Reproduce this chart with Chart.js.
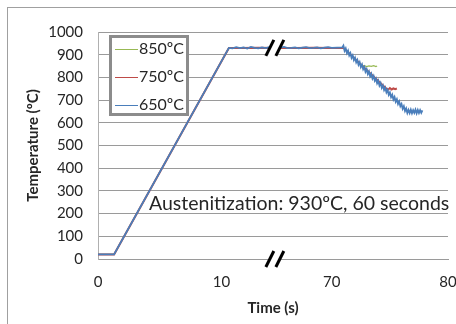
<!DOCTYPE html>
<html>
<head>
<meta charset="utf-8">
<script src="https://cdn.jsdelivr.net/npm/chart.js@4/dist/chart.umd.min.js"></script>
<style>
  html, body { margin: 0; padding: 0; background: #fff; }
  #wrap { width: 456px; height: 324px; position: relative; }
</style>
</head>
<body>
<div id="wrap"><canvas id="coolingChart"></canvas></div>
<script>
/* global Chart:false */

// tick labels of the broken time axis
var xTickLabels = [0, 10, 70, 80];
var yTicksMax = 1000;

// 650 C run (blue)
var time650 = [0, 1.3, 14, 16, 18, 20, 22, 24, 26, 28, 30, 32, 34, 36, 38, 40, 42, 44, 46, 48, 50, 52, 54, 56, 58, 60, 62, 64, 66, 68, 70, 70.9,
  71.0, 71.1, 71.2, 71.3, 71.4, 71.5, 71.6, 71.7, 71.8, 71.9, 72.0, 72.1, 72.2, 72.3, 72.4, 72.5, 72.6, 72.7, 72.8, 72.9,
  73.0, 73.1, 73.2, 73.3, 73.4, 73.5, 73.6, 73.7, 73.8, 73.9, 74.0, 74.1, 74.2, 74.3, 74.4, 74.5, 74.6, 74.7, 74.8, 74.9,
  75.0, 75.1, 75.2, 75.3, 75.4, 75.5, 75.6, 75.7, 75.8, 75.9, 76.0, 76.1, 76.2, 76.3, 76.4, 76.5,
  76.6, 76.7, 76.8, 76.9, 77.0, 77.1, 77.2, 77.3, 77.4, 77.5, 77.6, 77.7, 77.8];
var temp650 = [20, 20, 930, 928, 933, 929, 932, 927, 934, 930, 928, 932, 929, 933, 930, 927, 931, 934, 929, 930, 932, 928, 931, 933, 929, 930, 932, 928, 931, 933, 930, 932,
  940, 917, 928, 907, 918, 897, 907, 886, 897, 876, 887, 866, 877, 856, 867, 846, 857, 836, 846, 825,
  836, 815, 826, 805, 816, 795, 806, 785, 795, 774, 785, 764, 775, 754, 765, 744, 755, 734, 745, 723,
  734, 713, 724, 703, 714, 693, 704, 683, 694, 673, 683, 662, 673, 652, 663, 643,
  657, 643, 658, 642, 656, 644, 658, 642, 657, 643, 656, 644, 655];

// 750 C run (red)
var time750 = [0, 1.3, 14, 20, 30, 40, 50, 60, 70, 71, 74.7, 74.85, 75.0, 75.15, 75.3, 75.45, 75.6];
var temp750 = [20, 20, 930, 930, 931, 930, 930, 931, 930, 930, 750, 746, 753, 747, 752, 748, 751];

// 850 C run (green)
var time850 = [0, 1.3, 14, 40, 70, 71, 72.6, 72.8, 73.0, 73.2, 73.4, 73.6, 73.8, 73.9];
var temp850 = [20, 20, 930, 930, 930, 930, 850, 852, 848, 851, 849, 852, 848, 850];

var annotationText = "Austenitization: 930\u00baC, 60 seconds";

function toPoints(times, temps) {
  return times.map(function (t, i) {
    return { x: t, y: temps[i] };
  });
}

// linear scale with a compressed 10..70 s section
var BREAK_VALUES = [0, 10, 70, 80];
var BREAK_DECIMALS = [0, 0.353, 0.668, 1];

function valueToDecimal(v) {
  for (var i = 1; i < BREAK_VALUES.length; i++) {
    if (v <= BREAK_VALUES[i] || i === BREAK_VALUES.length - 1) {
      var f = (v - BREAK_VALUES[i - 1]) / (BREAK_VALUES[i] - BREAK_VALUES[i - 1]);
      return BREAK_DECIMALS[i - 1] + f * (BREAK_DECIMALS[i] - BREAK_DECIMALS[i - 1]);
    }
  }
  return 0;
}

function decimalToValue(d) {
  for (var i = 1; i < BREAK_DECIMALS.length; i++) {
    if (d <= BREAK_DECIMALS[i] || i === BREAK_DECIMALS.length - 1) {
      var f = (d - BREAK_DECIMALS[i - 1]) / (BREAK_DECIMALS[i] - BREAK_DECIMALS[i - 1]);
      return BREAK_VALUES[i - 1] + f * (BREAK_VALUES[i] - BREAK_VALUES[i - 1]);
    }
  }
  return 0;
}

class BrokenLinearScale extends Chart.LinearScale {
  getPixelForValue(value) {
    if (value === null || isNaN(value)) return NaN;
    return this.getPixelForDecimal(valueToDecimal(value));
  }
  getValueForPixel(pixel) {
    return decimalToValue(this.getDecimalForPixel(pixel));
  }
}
BrokenLinearScale.id = "brokenLinear";
BrokenLinearScale.defaults = Chart.LinearScale.defaults;
Chart.register(BrokenLinearScale);

var FONT = "Lato, 'Liberation Sans', sans-serif";
var TEXT_COLOR = "#262626";

function drawBreak(ctx, x, y) {
  ctx.save();
  ctx.strokeStyle = "#fff";
  ctx.lineWidth = 7;
  ctx.beginPath();
  ctx.moveTo(x - 4, y + 8);
  ctx.lineTo(x + 4, y - 8);
  ctx.stroke();
  ctx.strokeStyle = "#000";
  ctx.lineWidth = 3;
  [-5, 5].forEach(function (dx) {
    ctx.beginPath();
    ctx.moveTo(x + dx - 4, y + 8);
    ctx.lineTo(x + dx + 4, y - 8);
    ctx.stroke();
  });
  ctx.restore();
}

var decorPlugin = {
  id: "decor",
  beforeDraw: function (chart) {
    var ctx = chart.ctx;
    ctx.save();
    ctx.fillStyle = "#fff";
    ctx.fillRect(0, 0, chart.width, chart.height);
    ctx.strokeStyle = "#a0a0a0";
    ctx.lineWidth = 1;
    ctx.strokeRect(7.5, 7.5, chart.width, chart.height);
    ctx.restore();
  },
  afterDraw: function (chart) {
    var ctx = chart.ctx;
    var xs = chart.scales.x;
    var ys = chart.scales.y;
    var bx = xs.getPixelForValue(39);

    drawBreak(ctx, bx, ys.getPixelForValue(930));
    drawBreak(ctx, bx, chart.chartArea.bottom);

    // legend box
    ctx.save();
    ctx.fillStyle = "#fff";
    ctx.fillRect(110, 36, 78, 79);
    ctx.strokeStyle = "#8c8c8c";
    ctx.lineWidth = 3;
    ctx.strokeRect(110.5, 36.5, 77, 78);
    ctx.font = "16px " + FONT;
    ctx.textBaseline = "middle";
    ctx.fillStyle = TEXT_COLOR;
    var rowY = [49, 77, 105];
    chart.data.datasets.forEach(function (ds, i) {
      var y = rowY[i] + 0.5;
      ctx.strokeStyle = ds.borderColor;
      ctx.lineWidth = 1;
      ctx.beginPath();
      ctx.moveTo(115, y);
      ctx.lineTo(138, y);
      ctx.stroke();
      ctx.fillText(ds.label, 139, rowY[i]);
    });

    // annotation
    ctx.font = "19.5px " + FONT;
    ctx.textBaseline = "alphabetic";
    ctx.fillText(annotationText, 149, 210);
    ctx.restore();
  },
};

var ctx = document.getElementById("coolingChart").getContext("2d");
var coolingChart = new Chart(ctx, {
  type: "line",
  data: {
    datasets: [
      {
        label: "850\u00baC",
        data: toPoints(time850, temp850),
        borderColor: "#98b954",
        borderWidth: 1.2,
        order: 2,
      },
      {
        label: "750\u00baC",
        data: toPoints(time750, temp750),
        borderColor: "#be4b48",
        borderWidth: 2,
        order: 1,
      },
      {
        label: "650\u00baC",
        data: toPoints(time650, temp650),
        borderColor: "#4a7ebb",
        borderWidth: 1.8,
        order: 0,
      },
    ],
  },
  options: {
    responsive: true,
    maintainAspectRatio: false,
    animation: false,
    elements: {
      point: { radius: 0 },
      line: { tension: 0 },
    },
    layout: {
      padding: { top: 32, right: 8, bottom: 0, left: 0 },
    },
    plugins: {
      legend: { display: false },
      tooltip: { enabled: false },
    },
    scales: {
      x: {
        type: "brokenLinear",
        min: 0,
        max: 80,
        afterBuildTicks: function (scale) {
          scale.ticks = xTickLabels.map(function (v) {
            return { value: v };
          });
        },
        afterFit: function (scale) {
          scale.height = 65;
          scale.paddingLeft = 0;
          scale.paddingRight = 0;
        },
        grid: { display: false, drawTicks: false },
        border: { display: true, color: "#9a9a9a", width: 1 },
        ticks: {
          autoSkip: false,
          maxRotation: 0,
          padding: 14,
          color: TEXT_COLOR,
          font: { family: FONT, size: 15 },
          callback: function (value) {
            return String(value);
          },
        },
        title: {
          display: true,
          text: "Time (s)",
          color: TEXT_COLOR,
          font: { family: FONT, size: 15, weight: "bold" },
          padding: { top: 0, bottom: 7 },
        },
      },
      y: {
        min: 0,
        max: yTicksMax,
        afterFit: function (scale) {
          scale.width = 98;
        },
        grid: { color: "#9a9a9a", drawTicks: false },
        border: { display: true, color: "#b0b0b0", width: 1 },
        ticks: {
          stepSize: 100,
          padding: 15,
          color: TEXT_COLOR,
          font: { family: FONT, size: 15 },
          callback: function (value) {
            return String(value);
          },
        },
        title: {
          display: true,
          text: "Temperature (\u00baC)",
          color: TEXT_COLOR,
          font: { family: FONT, size: 15, weight: "bold" },
          padding: { top: 24, bottom: 0 },
        },
      },
    },
  },
  plugins: [decorPlugin],
});
</script>
</body>
</html>
